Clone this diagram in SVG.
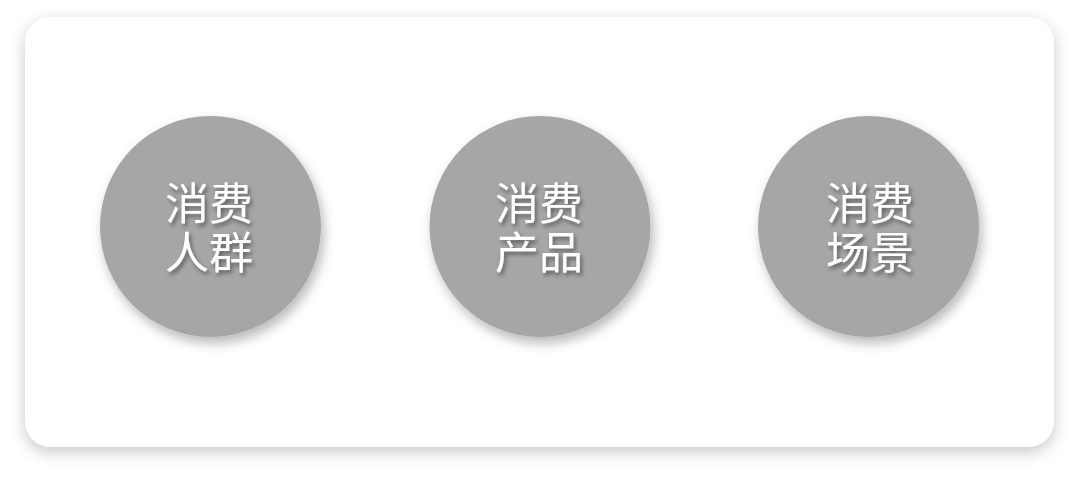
<svg xmlns="http://www.w3.org/2000/svg" width="1080" height="487" viewBox="0 0 1080 487">
<defs>
<filter id="cardShadow" x="-10%" y="-10%" width="120%" height="130%">
<feDropShadow dx="0" dy="5" stdDeviation="8" flood-color="#000" flood-opacity="0.22"/>
</filter>
<filter id="circleShadow" x="-20%" y="-20%" width="150%" height="150%">
<feDropShadow dx="3" dy="6" stdDeviation="6" flood-color="#000" flood-opacity="0.28"/>
</filter>
<filter id="textShadow" x="-20%" y="-20%" width="150%" height="150%">
<feDropShadow dx="2" dy="3" stdDeviation="2" flood-color="#000" flood-opacity="0.45"/>
</filter>
</defs>
<style>
.circle{fill:#a6a6a6;filter:url(#circleShadow);}
.label{fill:#ffffff;font-family:"Noto Sans CJK SC","Noto Sans",sans-serif;font-size:44px;text-anchor:middle;filter:url(#textShadow);}
</style>
<rect width="1080" height="487" fill="#ffffff"/>
<rect id="card" x="25" y="17" width="1029" height="430" rx="26" ry="26" fill="#ffffff" filter="url(#cardShadow)"/>
<g id="connectors"></g>
<g id="node-crowd">
<circle class="circle" cx="210.5" cy="226.5" r="110.5"/>
<text class="label" x="209" y="220">消费<tspan x="209" y="269">人群</tspan></text>
</g>
<g id="node-product">
<circle class="circle" cx="540" cy="226.5" r="110.5"/>
<text class="label" x="539" y="220">消费<tspan x="539" y="269">产品</tspan></text>
</g>
<g id="node-scene">
<circle class="circle" cx="868.5" cy="226.5" r="110.5"/>
<text class="label" x="870" y="220">消费<tspan x="870" y="269">场景</tspan></text>
</g>
</svg>
